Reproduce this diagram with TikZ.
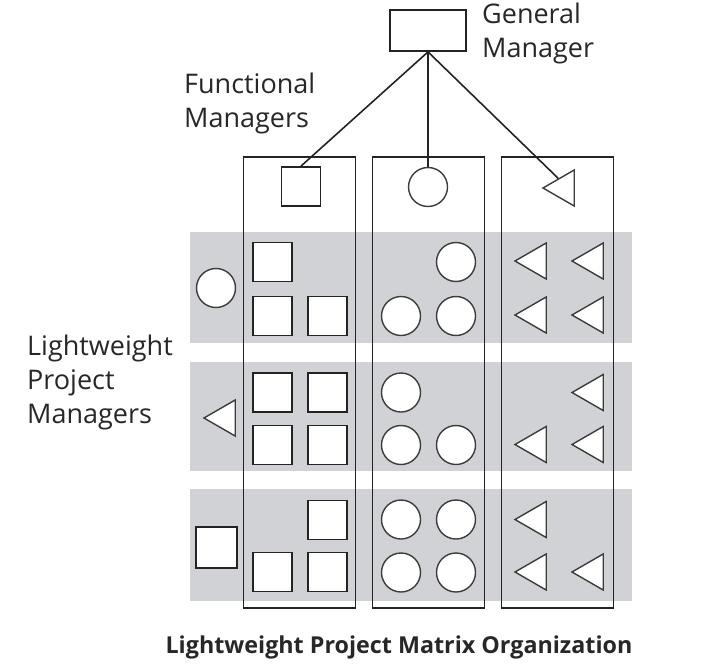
\documentclass[tikz,border=0pt]{standalone}
\usepackage{fontspec}
\setmainfont{Open Sans}
\usetikzlibrary{shapes.geometric,calc}
\definecolor{bandgray}{RGB}{209,210,213}
\definecolor{linecol}{RGB}{35,35,35}
\definecolor{circcol}{RGB}{60,60,60}
\definecolor{textcol}{RGB}{40,38,40}
\begin{document}
\begin{tikzpicture}[x=1pt,y=-1pt,
  band/.style={fill=bandgray,draw=none},
  colbox/.style={draw=linecol,line width=1.8pt,minimum width=112pt,minimum height=451pt,inner sep=0pt},
  sq/.style={draw=linecol,line width=1.8pt,fill=white,minimum size=39pt,inner sep=0pt},
  circ/.style={circle,draw=circcol,line width=1.4pt,fill=white,minimum size=39pt,inner sep=0pt},
  tri/.style={regular polygon,regular polygon sides=3,shape border rotate=90,draw=circcol,line width=1.4pt,fill=white,minimum size=41.6pt,inner sep=0pt},
  lab/.style={font=\fontsize{27}{34}\selectfont,text=textcol,inner sep=0pt,align=left},
  conn/.style={draw=linecol,line width=1.6pt}
]
\useasboundingbox (0,0) rectangle (709,669);
% bands
\path[band] (190,232) rectangle (632,343);
\path[band] (190,362) rectangle (632,471);
\path[band] (190,489) rectangle (632,601);
% column boxes
\node[colbox] (col1) at (299.5,382.5) {};
\node[colbox] (col2) at (428.5,382.5) {};
\node[colbox] (col3) at (557.5,382.5) {};
% general manager
\node[sq,minimum width=76pt,minimum height=41pt] (gm) at (428,30.5) {};
% functional managers
\node[sq] (fsq) at (301,186.5) {};
\node[circ] (fci) at (428,187) {};
\node[tri] (ftri) at (563.8,188) {};
% band 1
\node[circ] (p1) at (216,288) {};
\node[sq] (b1s1) at (272.5,262) {};
\node[sq] (b1s2) at (272.5,316) {};
\node[sq] (b1s3) at (327.5,316) {};
\node[circ] (b1c1) at (456,262) {};
\node[circ] (b1c2) at (401,316) {};
\node[circ] (b1c3) at (456,316) {};
\node[tri] (b1t1) at (535.8,261) {};
\node[tri] (b1t2) at (592.8,261) {};
\node[tri] (b1t3) at (535.8,315) {};
\node[tri] (b1t4) at (592.8,315) {};
% band 2
\node[tri] (p2) at (224.8,418) {};
\node[sq] (b2s1) at (272.5,392.5) {};
\node[sq] (b2s2) at (327.5,392.5) {};
\node[sq] (b2s3) at (272.5,445) {};
\node[sq] (b2s4) at (327.5,445) {};
\node[circ] (b2c1) at (401,392.5) {};
\node[circ] (b2c2) at (401,445) {};
\node[circ] (b2c3) at (456,445) {};
\node[tri] (b2t1) at (592.8,392.5) {};
\node[tri] (b2t2) at (535.8,444.5) {};
\node[tri] (b2t3) at (592.8,444.5) {};
% band 3
\node[sq,minimum size=41pt] (p3) at (216.5,547.5) {};
\node[sq] (b3s1) at (327.5,520) {};
\node[sq] (b3s2) at (272.5,572) {};
\node[sq] (b3s3) at (327.5,572) {};
\node[circ] (b3c1) at (401,519.5) {};
\node[circ] (b3c2) at (456,519.5) {};
\node[circ] (b3c3) at (401,572.5) {};
\node[circ] (b3c4) at (456,572.5) {};
\node[tri] (b3t1) at (535.8,519.5) {};
\node[tri] (b3t2) at (535.8,572) {};
\node[tri] (b3t3) at (592.8,572) {};
% connectors
\draw[conn] (gm.south) -- (fsq.north);
\draw[conn] (gm.south) -- (fci.north);
\draw[conn] (gm.south) -- ($(ftri.corner 1)!0.5!(ftri.corner 3)$);
% labels (anchor at baseline of last line)
\node[lab,anchor=base west] (gmlab) at (482,58) {General\\Manager};
\node[lab,anchor=base west] (fmlab) at (184,127) {Functional\\Managers};
\node[lab,anchor=base west] (pmlab) at (27,423) {Lightweight\\Project\\Managers};
\node[font=\bfseries\fontsize{23.3}{28}\selectfont,text=textcol,inner sep=0pt,anchor=base] (title) at (399,653) {Lightweight Project Matrix Organization};
\end{tikzpicture}
\end{document}
